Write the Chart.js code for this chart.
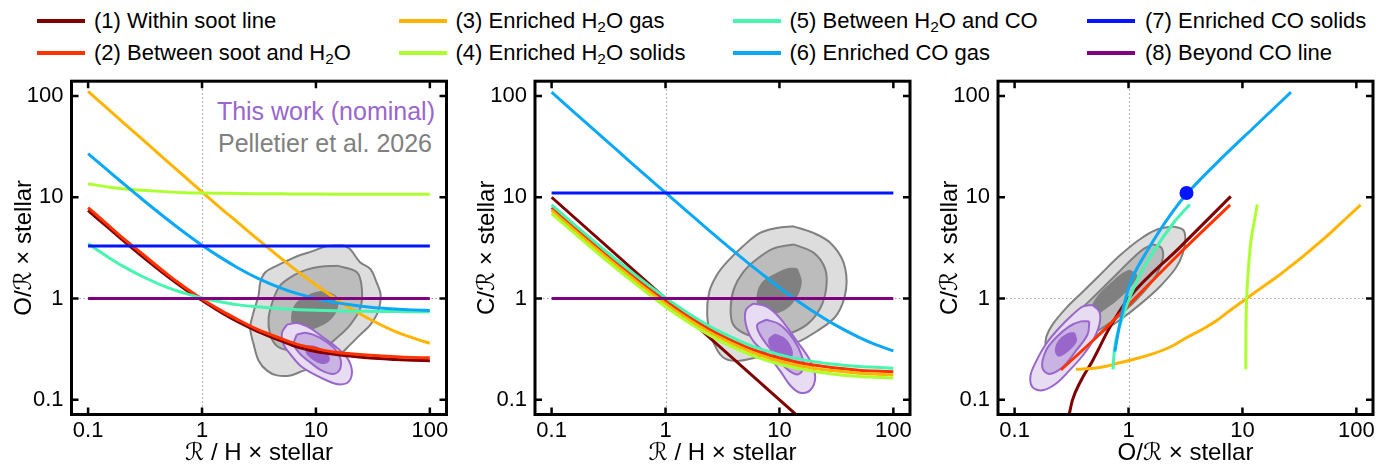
<!DOCTYPE html>
<html>
<head>
<meta charset="utf-8">
<script src="https://cdn.jsdelivr.net/npm/chart.js@4/dist/chart.umd.min.js"></script>
<style>
  html,body{margin:0;padding:0;background:#fff;}
  body{width:1390px;height:468px;overflow:hidden;position:relative;font-family:"Liberation Sans",Arial,sans-serif;}
  canvas{position:absolute;top:60px;}
  .sw{position:absolute;height:4px;width:48px;}
  .lt{position:absolute;font-size:22px;line-height:24px;height:24px;white-space:nowrap;color:#000;}
  .lt sub{font-size:0.7em;vertical-align:-0.25em;line-height:0;}
  .ann{position:absolute;font-size:25px;line-height:28px;white-space:nowrap;text-align:right;}
</style>
</head>
<body>
<div id="legend"></div>
<div class="ann" style="right:955px;top:97px;color:#9966cc;">This work (nominal)</div>
<div class="ann" style="right:958px;top:129px;color:#808080;">Pelletier et al. 2026</div>
<canvas id="c1" width="460" height="408" style="left:0px"></canvas>
<canvas id="c2" width="460" height="408" style="left:460px"></canvas>
<canvas id="c3" width="470" height="408" style="left:920px"></canvas>
<script>
// ---------------- data ----------------
const NAMES = ['(1) Within soot line','(2) Between soot and H<sub>2</sub>O','(3) Enriched H<sub>2</sub>O gas','(4) Enriched H<sub>2</sub>O solids',
               '(5) Between H<sub>2</sub>O and CO','(6) Enriched CO gas','(7) Enriched CO solids','(8) Beyond CO line'];
const COLORS = ['#800000','#ff3300','#ffb400','#adff2f','#45f5b0','#0aa8f5','#0515ff','#800080'];

const TICKS = [0.1, 1, 10, 100];
const TICK_LABELS = ['0.1', '1', '10', '100'];

// R/H x stellar grid (panels 1 and 2)
const XS = [0.1,0.15,0.2,0.3,0.5,0.7,1,1.5,2,3,5,7,10,15,20,30,50,70,100];
const XS_END = [0.1, 100];

// Panel 1: O/R x stellar
const OR_1 = [7.4,5.0,3.8,2.6,1.65,1.25,0.96,0.72,0.6,0.48,0.38,0.33,0.3,0.28,0.27,0.258,0.25,0.246,0.243];
const OR_2 = [7.9,5.3,4.0,2.75,1.72,1.3,0.99,0.75,0.63,0.5,0.4,0.35,0.32,0.295,0.285,0.275,0.266,0.262,0.26];
const OR_3 = [111,74,55.6,37.2,22.4,16.1,11.3,7.6,5.8,3.94,2.46,1.83,1.36,0.99,0.80,0.62,0.47,0.41,0.36];
const OR_4 = [13.6,12.6,12.1,11.7,11.3,11.1,11.0,10.95,10.9,10.85,10.8,10.78,10.75,10.73,10.72,10.71,10.7,10.7,10.7];
const OR_5 = [3.47,2.56,2.1,1.65,1.28,1.13,1.01,0.92,0.87,0.83,0.79,0.776,0.764,0.755,0.75,0.746,0.742,0.741,0.74];
const OR_6 = [27,18.3,13.9,9.5,6.0,4.49,3.36,2.49,2.05,1.61,1.26,1.11,1.0,0.91,0.866,0.82,0.787,0.772,0.76];
const OR_7 = [3.3, 3.3];
const OR_8 = [1, 1];

// Panel 2: C/R x stellar
const CR_1 = [10, 0.01];
const CR_2 = [7.9,5.33,4.04,2.75,1.72,1.28,0.953,0.696,0.567,0.438,0.335,0.291,0.258,0.232,0.22,0.207,0.196,0.192,0.189];
const CR_3 = [7.4,4.99,3.78,2.58,1.62,1.2,0.89,0.65,0.53,0.41,0.314,0.272,0.241,0.217,0.205,0.193,0.183,0.179,0.176];
const CR_4 = [6.9,4.65,3.53,2.40,1.51,1.12,0.83,0.606,0.494,0.382,0.292,0.253,0.224,0.202,0.191,0.179,0.17,0.167,0.164];
const CR_5 = [8.4,5.66,4.3,2.93,1.84,1.37,1.02,0.744,0.607,0.47,0.361,0.314,0.279,0.252,0.238,0.224,0.213,0.209,0.205];
const CR_6 = [109,72.7,54.6,36.5,21.9,15.7,11.1,7.45,5.64,3.82,2.37,1.75,1.28,0.92,0.74,0.558,0.413,0.35,0.304];
const CR_7 = [11, 11];
const CR_8 = [1, 1];

// Panel 3: (O/R, C/R) tracks
const OC_1 = [[0.30,0.07],[0.322,0.099],[0.383,0.155],[0.484,0.243],[0.68,0.51],[1.0,1.0],[2.82,3.2],[7.9,10.2]];
const OC_2 = [[0.255,0.197],[0.555,0.441],[1.09,0.95],[2.82,2.8],[7.8,8.4]];
const OC_3 = [[0.345,0.2],[0.42,0.202],[0.5,0.205],[0.65,0.215],[0.833,0.232],[1.1,0.25],[1.6,0.282],[2.3,0.33],[3.23,0.41],[4.5,0.5],[6,0.61],[8,0.78],[10.9,1.0],[15,1.3],[20,1.63],[26,2.05],[34.5,2.64],[45,3.4],[60,4.5],[80,6.1],[109,8.4]];
const OC_4 = [[10.7,0.2],[10.75,0.5],[10.9,1.0],[11.3,2.0],[11.8,3.5],[12.6,5.5],[13.5,8.5]];
const OC_5 = [[0.73,0.2],[0.75,0.3],[0.78,0.4],[0.92,0.74],[1.17,1.45],[1.64,2.84],[2.46,5.5],[3.45,8.5]];
const OC_6 = [[0.76,0.30],[0.78,0.36],[0.86,0.64],[1.02,1.35],[1.43,2.84],[2.46,7.3],[3.3,11],[6,22],[12.5,48.6],[26.7,109]];
const OC_7 = [[3.23,11.0]];

// Contours: Pelletier (gray) and this work (purple); outer, middle, inner
const P1_GRAY = [
  [[17.5,3.34],[20,3.06],[24.5,2.27],[30,1.96],[34,1.45],[37,1.08],[35,0.74],[30,0.55],[24.5,0.44],[20,0.35],[16.3,0.28],[12.5,0.226],[10.2,0.209],[7.8,0.194],[6,0.174],[4.55,0.174],[3.72,0.194],[3.14,0.243],[2.84,0.353],[2.65,0.51],[2.84,0.74],[3.14,1.08],[3.25,1.45],[3.6,1.82],[4.55,2.11],[5.6,2.36],[7.0,2.64],[9.5,2.95],[12.5,3.30]],
  [[15.3,2.11],[22.9,1.82],[25.3,1.25],[24.5,0.80],[20,0.55],[15.3,0.41],[11.7,0.327],[8.3,0.292],[5.95,0.304],[4.55,0.34],[3.97,0.44],[3.84,0.64],[4.25,1.0],[4.86,1.35],[6.36,1.69],[8.3,1.93],[10.9,2.06]],
  [[12.5,1.16],[15.3,1.0],[14.8,0.74],[12.5,0.594],[9.5,0.511],[7.3,0.475],[6.4,0.531],[6.2,0.69],[6.8,0.894],[8.3,1.04],[10.2,1.14]]
];
const P1_PURPLE = [
  [[5.57,0.552],[6.8,0.572],[8.9,0.511],[11.7,0.409],[15.3,0.327],[18.7,0.261],[20.7,0.194],[19.3,0.15],[15.8,0.142],[12.5,0.155],[9.5,0.18],[7.3,0.217],[5.95,0.282],[5.2,0.353],[5.03,0.457]],
  [[6.8,0.441],[8.3,0.457],[10.9,0.409],[14.3,0.327],[16.3,0.261],[16.3,0.202],[14.3,0.18],[11.3,0.194],[8.9,0.234],[7.3,0.282],[6.4,0.353]],
  [[8.3,0.34],[10.2,0.327],[12.5,0.282],[12.9,0.243],[11.3,0.231],[9.5,0.252],[8.3,0.292]]
];
const P2_GRAY = [
  [[13.3,5.16],[19.9,4.44],[27.9,3.55],[36.5,2.27],[38.5,1.25],[31.9,0.69],[21.3,0.475],[13.3,0.353],[7.73,0.282],[4.5,0.243],[3.21,0.261],[2.54,0.409],[2.32,0.69],[2.42,1.16],[2.81,1.69],[3.44,2.27],[4.81,3.3],[6.75,4.44],[9.46,4.97]],
  [[13.3,3.42],[19.9,2.84],[25.2,1.96],[25.7,1.25],[22.8,0.80],[17.4,0.552],[11.6,0.441],[7.73,0.409],[5.16,0.441],[3.93,0.552],[3.73,0.80],[3.99,1.25],[4.81,1.82],[6.31,2.44],[8.83,3.11]],
  [[14.2,1.96],[15.4,1.45],[13.7,1.0],[10.8,0.772],[8.27,0.731],[6.75,0.83],[6.44,1.08],[7.22,1.45],[9.46,1.75],[12.0,1.96]]
];
const P2_PURPLE = [
  [[5.89,0.894],[7.73,0.83],[10.1,0.64],[14.2,0.38],[18.6,0.243],[20.6,0.167],[18.6,0.124],[15.2,0.117],[12.4,0.139],[10.1,0.194],[7.73,0.282],[5.89,0.38],[5.08,0.552],[5.08,0.772]],
  [[7.73,0.617],[10.1,0.552],[13.3,0.395],[15.7,0.272],[16.2,0.202],[14.2,0.178],[11.2,0.209],[8.55,0.304],[6.75,0.441],[6.39,0.552]],
  [[9.15,0.441],[11.2,0.395],[12.8,0.304],[12.4,0.258],[10.5,0.272],[8.55,0.327],[8.15,0.395]]
];
const P3_GRAY = [
  [[2.46,5.16],[3.01,4.78],[3.15,3.9],[3.0,2.8],[2.6,2.0],[1.87,1.3],[1.3,0.9],[0.9,0.65],[0.555,0.45],[0.37,0.35],[0.26,0.285],[0.205,0.275],[0.188,0.33],[0.19,0.42],[0.215,0.552],[0.282,0.80],[0.395,1.16],[0.555,1.69],[0.833,2.64],[1.25,3.83],[1.76,4.78]],
  [[1.64,3.42],[1.94,3.18],[2.0,2.5],[1.75,1.7],[1.3,1.1],[0.86,0.7],[0.57,0.5],[0.4,0.4],[0.3,0.36],[0.263,0.42],[0.285,0.56],[0.38,0.78],[0.53,1.12],[0.75,1.65],[1.05,2.4],[1.34,3.06]],
  [[1.02,1.89],[1.17,1.69],[1.02,1.30],[0.778,0.965],[0.593,0.772],[0.501,0.69],[0.484,0.83],[0.555,1.08],[0.727,1.45],[0.891,1.75]]
];
const P3_PURPLE = [
  [[0.484,0.863],[0.555,0.743],[0.555,0.552],[0.484,0.38],[0.395,0.272],[0.302,0.194],[0.230,0.144],[0.175,0.124],[0.143,0.134],[0.138,0.174],[0.153,0.234],[0.188,0.353],[0.246,0.511],[0.322,0.69],[0.395,0.83]],
  [[0.453,0.594],[0.437,0.441],[0.345,0.304],[0.263,0.209],[0.201,0.18],[0.175,0.209],[0.188,0.304],[0.230,0.409],[0.302,0.531],[0.383,0.594]],
  [[0.334,0.457],[0.345,0.38],[0.291,0.304],[0.246,0.272],[0.230,0.304],[0.246,0.38],[0.291,0.441]]
];
const GRAY_FILLS = ['#dddddd','#bcbcbc','#808080'];
const GRAY_LINE = '#808080';
const PURPLE_FILLS = ['#e7dcf2','#c9b3e2','#9966cc'];
const PURPLE_LINE = '#9966cc';

// ---------------- helpers ----------------
const FONT = "'Liberation Sans', Arial, 'DejaVu Sans', sans-serif";
const AX_MIN = 0.0715, AX_MAX = 140;

function pts(xs, ys){ return xs.map((x,i)=>({x:x, y:ys[i]})); }
function pairs(a){ return a.map(p=>({x:p[0], y:p[1]})); }
function loop(a){ const p = pairs(a); p.push({x:a[0][0], y:a[0][1]}); return p; }

function lineDS(data, i){
  return {data, showLine:true, borderColor:COLORS[i], backgroundColor:COLORS[i], borderWidth:3,
          pointRadius:0, fill:false, order:20-i, cubicInterpolationMode:'monotone', borderCapStyle:'butt'};
}
function contourDS(gray, purple){
  const out = [];
  gray.forEach((c,k)=>out.push({data:loop(c), showLine:true, fill:'shape', backgroundColor:GRAY_FILLS[k],
      borderColor:GRAY_LINE, borderWidth:2, tension:0.35, pointRadius:0, order:110-k}));
  purple.forEach((c,k)=>out.push({data:loop(c), showLine:true, fill:'shape', backgroundColor:PURPLE_FILLS[k],
      borderColor:PURPLE_LINE, borderWidth:2, tension:0.35, pointRadius:0, order:105-k}));
  return out;
}

const framePlugin = {
  id:'frame',
  beforeDatasetsDraw(chart){
    const {ctx, chartArea:a, scales:{x,y}} = chart;
    ctx.save();
    ctx.strokeStyle = '#a0a0a0'; ctx.lineWidth = 1.2; ctx.setLineDash([1.5,2.5]);
    const px = Math.round(x.getPixelForValue(1)) + 0.5;
    const py = Math.round(y.getPixelForValue(1)) + 0.5;
    ctx.beginPath();
    ctx.moveTo(px, a.top); ctx.lineTo(px, a.bottom);
    ctx.moveTo(a.left, py); ctx.lineTo(a.right, py);
    ctx.stroke();
    ctx.restore();
  },
  afterDraw(chart){
    const {ctx, chartArea:a, scales:{x,y}} = chart;
    ctx.save();
    ctx.setLineDash([]);
    ctx.strokeStyle = '#000';
    ctx.lineWidth = 3;
    ctx.strokeRect(a.left, a.top, a.right-a.left, a.bottom-a.top);
    ctx.lineWidth = 2.5;
    const L = 7;
    ctx.beginPath();
    TICKS.forEach(v=>{
      const xx = x.getPixelForValue(v), yy = y.getPixelForValue(v);
      ctx.moveTo(xx, a.bottom); ctx.lineTo(xx, a.bottom-L);
      ctx.moveTo(xx, a.top); ctx.lineTo(xx, a.top+L);
      ctx.moveTo(a.left, yy); ctx.lineTo(a.left+L, yy);
      ctx.moveTo(a.right, yy); ctx.lineTo(a.right-L, yy);
    });
    ctx.stroke();
    ctx.restore();
  }
};

function axis(pos, title, size, titlePad){
  return {
    type:'logarithmic', position:pos, min:AX_MIN, max:AX_MAX,
    grid:{display:false, drawTicks:false}, border:{display:false},
    afterBuildTicks:(s)=>{ s.ticks = TICKS.map(v=>({value:v})); },
    afterFit:(s)=>{ if(pos==='bottom') s.height = size; else s.width = size; },
    ticks:{autoSkip:false, maxRotation:0, minRotation:0, padding:(pos==='bottom'?3:8), color:'#000',
           font:{size:22, family:FONT}, callback:(v,i)=>TICK_LABELS[i]},
    title:{display:true, text:title, color:'#000', font:{size:24, family:FONT}, padding:titlePad}
  };
}

function makeChart(id, yW, padR, xTitle, yTitle, yTitlePad, datasets){
  return new Chart(document.getElementById(id), {
    type:'scatter',
    data:{datasets},
    options:{
      responsive:false, animation:false, devicePixelRatio:1,
      layout:{padding:{top:15.5, right:padR, left:0, bottom:0}},
      plugins:{legend:{display:false}, tooltip:{enabled:false}},
      scales:{
        x: axis('bottom', xTitle, 53.5, {top:0, bottom:0}),
        y: axis('left', yTitle, yW, {top:yTitlePad, bottom:0})
      }
    },
    plugins:[framePlugin]
  });
}

// ---------------- legend ----------------
const LEG_SW_X = [37, 398.5, 733, 1087];
const LEG_TX_X = [94, 455.5, 789.5, 1145];
const LEG_ROW_Y = [20.7, 53.3];
const leg = document.getElementById('legend');
NAMES.forEach((n,i)=>{
  const col = Math.floor(i/2), row = i%2;
  const sw = document.createElement('div');
  sw.className='sw'; sw.style.background=COLORS[i];
  sw.style.left = LEG_SW_X[col]+'px'; sw.style.top = (LEG_ROW_Y[row]-2)+'px';
  leg.appendChild(sw);
  const t = document.createElement('div');
  t.className='lt'; t.innerHTML=n;
  t.style.left = LEG_TX_X[col]+'px'; t.style.top = (LEG_ROW_Y[row]-12)+'px';
  leg.appendChild(t);
});

// ---------------- charts ----------------
const OR = [OR_1,OR_2,OR_3,OR_4,OR_5,OR_6,OR_7,OR_8];
const CR = [CR_1,CR_2,CR_3,CR_4,CR_5,CR_6,CR_7,CR_8];
const OC = [OC_1,OC_2,OC_3,OC_4,OC_5,OC_6];

const ds1 = contourDS(P1_GRAY, P1_PURPLE);
OR.forEach((ys,i)=>ds1.push(lineDS(pts(ys.length===2?XS_END:XS, ys), i)));
const ds2 = contourDS(P2_GRAY, P2_PURPLE);
CR.forEach((ys,i)=>ds2.push(lineDS(pts(ys.length===2?XS_END:XS, ys), i)));
const ds3 = contourDS(P3_GRAY, P3_PURPLE);
OC.forEach((a,i)=>ds3.push(lineDS(pairs(a), i)));
ds3.push({data:pairs(OC_7), showLine:false, pointRadius:7, pointBorderWidth:0,
          pointBackgroundColor:COLORS[6], backgroundColor:COLORS[6], order:1});

makeChart('c1', 71.5, 13.5, 'ℛ / H × stellar', 'O/ℛ × stellar', 9.5, ds1);
makeChart('c2', 75, 10, 'ℛ / H × stellar', 'C/ℛ × stellar', 12.5, ds2);
makeChart('c3', 78, 17, 'O/ℛ × stellar', 'C/ℛ × stellar', 15.5, ds3);
</script>
</body>
</html>
